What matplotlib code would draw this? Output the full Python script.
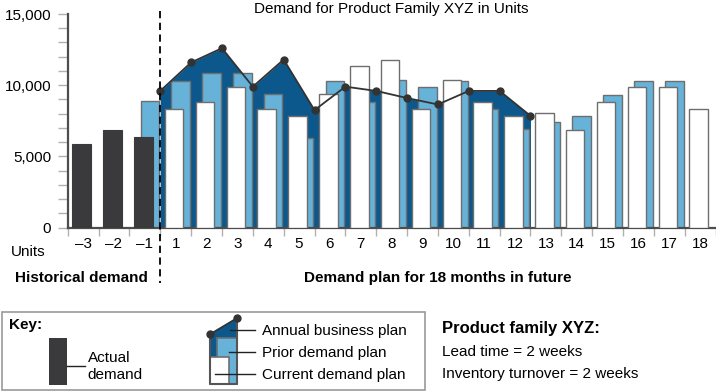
import matplotlib
matplotlib.use("Agg")
import matplotlib.pyplot as plt
import matplotlib.transforms as mtransforms
from matplotlib.lines import Line2D
from matplotlib.patches import Rectangle, Polygon

plt.rcParams['font.family'] = ['Liberation Sans', 'DejaVu Sans']

# ---------------- data ----------------
months = ['\u20133', '\u20132', '\u20131'] + [str(i) for i in range(1, 19)]
hist_months = ['\u20133', '\u20132', '\u20131']
actual_demand = [5850, 6850, 6350]

prior_months = ['\u20131'] + [str(i) for i in range(1, 18)]
prior_demand_plan = [8900, 10300, 10850, 10850, 9350, 6300, 10300, 8850, 10350,
                     9850, 10300, 8300, 6900, 7400, 7850, 9300, 10300, 10300]

current_months = [str(i) for i in range(1, 19)]
current_demand_plan = [8300, 8850, 9850, 8350, 7850, 9350, 11350, 11800, 8350,
                       10350, 8800, 7850, 8050, 6850, 8850, 9850, 9850, 8350]

# annual business plan points, placed at the start of each listed month
abp_months = [str(i) for i in range(1, 14)]
annual_business_plan = [9600, 11600, 12600, 9900, 11800, 8250, 9900, 9600,
                        9100, 8650, 9600, 9600, 7850]

yticks = [0, 5000, 10000, 15000]
ytick_labels = ['0', '5,000', '10,000', '15,000']

# ---------------- style ----------------
W, H = 716, 391
DARK = '#3a3a3c'
NAVY = '#0c588c'
LIGHT = '#66b2d8'
EDGE = '#6e6e6e'
TICKC = '#b0b0b0'
SPINE = '#4d4d4d'
FS = 11

fig = plt.figure(figsize=(W / 100, H / 100), dpi=100)


def fx(px):
    return px / W


def fy(py):
    return 1 - py / H


ax = fig.add_axes([fx(67.7), fy(227.7), 647.9 / W, 213.7 / H])
ax.set_xlim(0, len(months))
ax.set_ylim(0, 15000)

pos = {m: i for i, m in enumerate(months)}
FRONT, BACK, BW = 0.45, 0.66, 0.6

abp_x = [pos[m] for m in abp_months]
ax.fill_between(abp_x, annual_business_plan, 0, color=NAVY, lw=0, zorder=1)

ax.bar([pos[m] + BACK for m in prior_months], prior_demand_plan, width=BW,
       color=LIGHT, edgecolor=EDGE, linewidth=1.0, zorder=2)
ax.bar([pos[m] + FRONT for m in hist_months], actual_demand, width=BW,
       color=DARK, edgecolor=DARK, linewidth=0.8, zorder=3)
ax.bar([pos[m] + FRONT for m in current_months], current_demand_plan, width=BW,
       color='white', edgecolor=EDGE, linewidth=1.0, zorder=3)
ax.plot(abp_x, annual_business_plan, color='#333333', lw=1.3, marker='o',
        ms=5, zorder=5, clip_on=False)

for s in ['top', 'right']:
    ax.spines[s].set_visible(False)
for s in ['left', 'bottom']:
    ax.spines[s].set_color(SPINE)
    ax.spines[s].set_linewidth(1.6)

ax.set_yticks(yticks)
ax.set_yticklabels(ytick_labels, fontsize=FS)
ax.set_yticks(range(0, 15001, 1000), minor=True)
ax.tick_params(axis='y', which='both', length=7.5, color=TICKC, width=1, pad=4.3)

ax.set_xticks([i + 0.5 for i in range(len(months))])
ax.set_xticklabels(months, fontsize=FS)
ax.set_xticks(range(len(months) + 1), minor=True)
ax.tick_params(axis='x', which='major', length=0, pad=7)
ax.tick_params(axis='x', which='minor', length=6, color=TICKC, width=1)

# dashed separator between history and plan
trans = mtransforms.blended_transform_factory(ax.transData, fig.transFigure)
fig.add_artist(Line2D([pos['1'], pos['1']], [fy(11), fy(283)], transform=trans,
                      color='black', lw=1.3, ls=(0, (4, 2.5))))

# ---------------- texts ----------------
fig.text(fx(391.6), fy(13.3), 'Demand for Product Family XYZ in Units',
         ha='center', va='baseline', fontsize=FS)
fig.text(fx(11), fy(256), 'Units', ha='left', va='baseline', fontsize=FS)
fig.text(fx(14.7), fy(282), 'Historical demand', ha='left', va='baseline',
         fontsize=FS, fontweight='bold')
fig.text(fx(303.7), fy(282), 'Demand plan for 18 months in future', ha='left',
         va='baseline', fontsize=FS, fontweight='bold')

# ---------------- key ----------------
ov = fig.add_axes([0, 0, 1, 1])
ov.set_xlim(0, W)
ov.set_ylim(H, 0)
ov.axis('off')
ov.patch.set_visible(False)

ov.add_patch(Rectangle((1.7, 311.7), 423.6, 78.3, fill=False, ec='#9a9a9a', lw=1.2))
ov.text(9.3, 329, 'Key:', fontsize=FS, fontweight='bold', va='baseline')

ov.add_patch(Rectangle((49, 338.3), 17.7, 46.7, color=DARK, lw=0))
ov.plot([66.7, 85], [365.7, 365.7], color='#222222', lw=1)
ov.text(87.7, 361.7, 'Actual', fontsize=FS, va='baseline')
ov.text(87.7, 379, 'demand', fontsize=FS, va='baseline')

ov.add_patch(Polygon([(210, 334.3), (236.7, 318.3), (236.7, 384), (210, 384)],
                     closed=True, color=NAVY, lw=0))
ov.add_patch(Rectangle((216.7, 337.7), 20, 46.3, fc=LIGHT, ec=EDGE, lw=1.2))
ov.add_patch(Rectangle((210, 356.7), 19, 27.3, fc='white', ec=EDGE, lw=1.2))
ov.plot([210, 210, 236.7, 236.7], [334.3, 384, 384, 318.3], color='#555555', lw=1.5)
ov.plot([210, 236.7], [334.3, 318.3], color='#333333', lw=1.3, marker='o', ms=5)

ov.plot([230, 255], [330, 330], color='#222222', lw=1)
ov.plot([228.7, 255], [352.3, 352.3], color='#222222', lw=1)
ov.plot([215, 255], [374, 374], color='#222222', lw=1)
ov.text(261.7, 335, 'Annual business plan', fontsize=FS, va='baseline')
ov.text(261.7, 357.3, 'Prior demand plan', fontsize=FS, va='baseline')
ov.text(261.7, 379, 'Current demand plan', fontsize=FS, va='baseline')

ov.text(442, 333.3, 'Product family XYZ:', fontsize=12, fontweight='bold', va='baseline')
ov.text(442, 356, 'Lead time = 2 weeks', fontsize=FS, va='baseline')
ov.text(442, 378, 'Inventory turnover = 2 weeks', fontsize=FS, va='baseline')

fig.savefig('out.png', dpi=100)
